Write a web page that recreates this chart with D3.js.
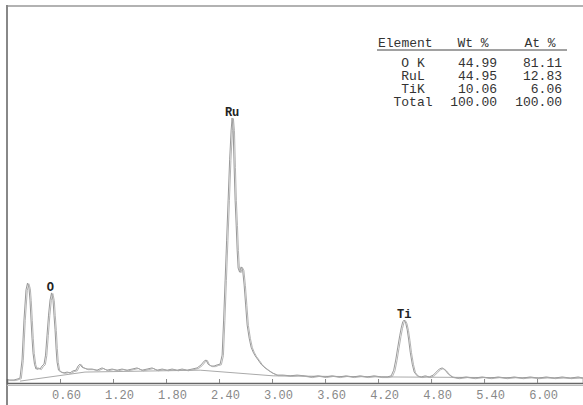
<!DOCTYPE html>
<html>
<head>
<meta charset="utf-8">
<script src="https://cdn.jsdelivr.net/npm/d3@7"></script>
<style>
body { margin: 0; background: #fff; }
svg { display: block; }
</style>
</head>
<body>
<div id="spectrum"></div>
<script>
var width = 583;
var height = 405;

// spectrum: energy (keV) and counts (arbitrary units)
var energy = [0.011,0.079,0.125,0.147,0.170,0.192,0.215,0.232,0.249,0.260,0.272,0.283,0.294,0.311,0.328,0.351,0.374,0.396,0.419,0.436,
  0.453,0.470,0.487,0.504,0.521,0.532,0.544,0.555,0.566,0.583,0.612,0.646,0.680,0.714,0.747,0.781,0.804,0.827,0.849,0.872,
  0.906,0.963,1.019,1.076,1.132,1.189,1.246,1.302,1.359,1.416,1.472,1.529,1.586,1.642,1.699,1.756,1.812,1.869,1.925,1.982,
  2.038,2.095,2.152,2.197,2.231,2.254,2.276,2.310,2.344,2.378,2.412,2.435,2.452,2.469,2.486,2.503,2.520,2.537,2.548,2.560,
  2.571,2.582,2.594,2.605,2.616,2.633,2.650,2.667,2.684,2.701,2.718,2.741,2.763,2.786,2.809,2.843,2.876,2.910,2.956,3.001,
  3.058,3.126,3.205,3.284,3.364,3.443,3.522,3.601,3.681,3.760,3.839,3.918,3.998,4.077,4.156,4.236,4.304,4.349,4.377,4.400,
  4.422,4.445,4.462,4.479,4.496,4.513,4.530,4.547,4.564,4.587,4.609,4.643,4.689,4.734,4.779,4.825,4.859,4.893,4.926,4.960,
  4.994,5.039,5.108,5.198,5.289,5.379,5.470,5.561,5.651,5.742,5.832,5.923,6.014,6.104,6.195,6.285,6.376,6.466,6.523];
var counts = [8,8,11,13,61,167,247,265,252,220,167,119,80,50,37,40,37,45,50,74,
  127,180,220,239,220,180,141,93,56,34,29,27,29,27,32,34,45,50,42,40,
  37,37,34,40,34,37,34,37,34,37,40,34,37,40,34,37,34,37,34,37,
  34,37,40,48,58,61,50,45,45,48,50,74,167,273,379,485,592,671,703,671,
  573,485,419,353,305,294,308,300,260,207,154,119,95,82,72,61,50,42,34,27,
  21,21,19,21,19,16,19,16,19,16,19,16,19,16,19,16,16,19,34,61,
  93,125,146,162,167,159,141,114,82,50,29,19,16,19,16,21,29,37,40,34,
  24,16,13,16,13,16,13,16,13,16,13,16,13,16,13,16,13,16,13];

// fitted background
var bgEnergy = [0.147, 0.883, 2.186, 3.012, 4.337, 6.523];
var bgCounts = [5, 29, 34, 19, 16, 13];

var ticks = [0.6, 1.2, 1.8, 2.4, 3.0, 3.6, 4.2, 4.8, 5.4, 6.0];

var peakNames = ["O", "Ru", "Ti"];
var peakEnergy = [0.49, 2.548, 4.496];
var peakCounts = [239, 703, 167];

var tableHead = ["Element", "Wt %", "At %"];
var tableElements = ["O K", "RuL", "TiK", "Total"];
var tableWt = ["44.99", "44.95", "10.06", "100.00"];
var tableAt = ["81.11", "12.83", "6.06", "100.00"];

var svg = d3.select("div#spectrum").append("svg")
    .attr("width", width)
    .attr("height", height);

var xScale = d3.scaleLinear().domain([0, 6.52]).range([7, 583]);
var yScale = d3.scaleLinear().domain([0, 1000]).range([383, 6]);

// frame
svg.append("line").attr("x1", 7).attr("x2", 583).attr("y1", 6).attr("y2", 6)
    .attr("stroke", "#999").attr("stroke-width", 1.5);
svg.append("line").attr("x1", 7).attr("x2", 7).attr("y1", 5).attr("y2", height)
    .attr("stroke", "#888").attr("stroke-width", 2);

var spec = energy.map(function(e, i){ return [e, counts[i]]; });
var bg = bgEnergy.map(function(e, i){ return [e, bgCounts[i]]; });

var line = d3.line()
    .x(function(d){ return xScale(d[0]); })
    .y(function(d){ return yScale(d[1]); });

svg.append("path").datum(bg)
    .attr("d", line).attr("fill", "none")
    .attr("stroke", "#aaa").attr("stroke-width", 1);

// measured trace drawn twice, slightly shifted, like the original print
svg.append("path").datum(spec)
    .attr("d", line).attr("fill", "none")
    .attr("stroke", "#999").attr("stroke-width", 1);
svg.append("path").datum(spec)
    .attr("d", line).attr("fill", "none")
    .attr("transform", "translate(1.3,0.6)")
    .attr("stroke", "#aaa").attr("stroke-width", 0.9);

// bottom axis
var xAxis = d3.axisBottom(xScale).tickValues(ticks).tickSize(-4).tickFormat(d3.format(".2f"));
var gx = svg.append("g").attr("transform", "translate(0,383)").call(xAxis);
gx.select(".domain").attr("stroke", "#666").attr("stroke-width", 1.5);
gx.selectAll(".tick line").attr("stroke", "#888");
gx.selectAll(".tick text")
    .attr("y", 7).attr("dx", 6)
    .attr("fill", "#888")
    .style("font-family", "'Liberation Mono', 'DejaVu Sans Mono', monospace")
    .style("font-size", "12px");
svg.append("line").attr("x1", 7).attr("x2", 583).attr("y1", 385.5).attr("y2", 385.5)
    .attr("stroke", "#bbb").attr("stroke-width", 1);

// peak labels
svg.selectAll("text.peak")
    .data(peakNames)
    .enter()
    .append("text")
    .attr("class", "peak")
    .attr("x", function(d, i){ return xScale(peakEnergy[i]); })
    .attr("y", function(d, i){ return yScale(peakCounts[i]) - 2; })
    .attr("text-anchor", "middle")
    .attr("fill", "#222")
    .style("font-family", "'Liberation Mono', monospace")
    .style("font-weight", "bold")
    .style("font-size", "12px")
    .text(function(d){ return d; });

// results table
var mono = "'Liberation Mono', 'DejaVu Sans Mono', monospace";
var tbl = svg.append("g").attr("fill", "#333")
    .style("font-family", mono).style("font-size", "13px");

tbl.append("text").attr("x", 378).attr("y", 47).text(tableHead[0]);
tbl.append("text").attr("x", 473).attr("y", 47).attr("text-anchor", "middle").text(tableHead[1]);
tbl.append("text").attr("x", 540).attr("y", 47).attr("text-anchor", "middle").text(tableHead[2]);
tbl.append("line").attr("x1", 377).attr("x2", 567).attr("y1", 50).attr("y2", 50)
    .attr("stroke", "#444").attr("stroke-width", 1);

tbl.selectAll("text.el").data(tableElements).enter().append("text")
    .attr("class", "el").attr("x", 413).attr("text-anchor", "middle")
    .attr("y", function(d, i){ return 67 + i * 13; })
    .text(function(d){ return d; });
tbl.selectAll("text.wt").data(tableWt).enter().append("text")
    .attr("class", "wt").attr("x", 497).attr("text-anchor", "end")
    .attr("y", function(d, i){ return 67 + i * 13; })
    .text(function(d){ return d; });
tbl.selectAll("text.at").data(tableAt).enter().append("text")
    .attr("class", "at").attr("x", 562).attr("text-anchor", "end")
    .attr("y", function(d, i){ return 67 + i * 13; })
    .text(function(d){ return d; });
</script>
</body>
</html>
